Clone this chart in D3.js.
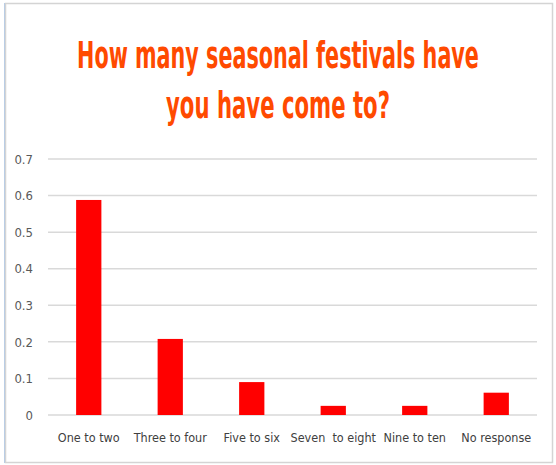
<!DOCTYPE html>
<html>
<head>
<meta charset="utf-8">
<script src="https://cdn.jsdelivr.net/npm/d3@7/dist/d3.min.js"></script>
<style>
  body { margin: 0; background: #fff; }
  svg { display: block; }
</style>
</head>
<body>
<div id="chart"></div>
<script>
var categories = ["One to two", "Three to four", "Five to six", "Seven  to eight", "Nine to ten", "No response"];
var values = [0.588, 0.208, 0.09, 0.025, 0.025, 0.061];
var yTicks = [0, 0.1, 0.2, 0.3, 0.4, 0.5, 0.6, 0.7];
var titleLines = ["How many seasonal festivals have", "you have come to?"];

var width = 556, height = 465;
var margin = { top: 159, right: 19, bottom: 50, left: 48 };
var w = width - margin.left - margin.right;
var h = height - margin.top - margin.bottom;

var svg = d3.select("#chart")
    .append("svg")
    .attr("width", width)
    .attr("height", height);

// frame
svg.append("rect")
    .attr("x", 5.5).attr("y", 3.5)
    .attr("width", 547).attr("height", 459)
    .attr("fill", "none")
    .attr("stroke", "#d4d4d4")
    .attr("stroke-width", 1.5);
svg.append("line")
    .attr("x1", 4.5).attr("x2", 4.5)
    .attr("y1", 3).attr("y2", 463)
    .attr("stroke", "#b9cde5");

// title, squeezed horizontally to look like a condensed bold face
var titleWidths = [402, 224];
svg.selectAll("text.title")
    .data(titleLines)
    .enter()
    .append("text")
    .attr("class", "title")
    .attr("text-anchor", "middle")
    .style("font-family", "'DejaVu Sans Condensed', 'DejaVu Sans', sans-serif")
    .style("font-weight", "bold")
    .style("font-size", "37px")
    .style("fill", "#ff4a00")
    .text(function(d) { return d; })
    .attr("transform", function(d, i) {
        var k = titleWidths[i] / this.getComputedTextLength();
        return "translate(278," + (68 + i * 50) + ") scale(" + k + ",1)";
    });

var g = svg.append("g")
    .attr("transform", "translate(" + margin.left + "," + margin.top + ")");

var x = d3.scaleBand()
    .domain(categories)
    .range([0, w])
    .paddingInner(0.69)
    .paddingOuter(0.345);

var y = d3.scaleLinear()
    .domain([0, 0.7])
    .range([h, 0]);

// gridlines
g.selectAll("line.grid")
    .data(yTicks)
    .enter()
    .append("line")
    .attr("class", "grid")
    .attr("x1", 0)
    .attr("x2", w)
    .attr("y1", function(d) { return y(d); })
    .attr("y2", function(d) { return y(d); })
    .attr("stroke", "#d9d9d9")
    .attr("stroke-width", 1.5);

// y labels
var yAxis = g.append("g")
    .call(d3.axisLeft(y).tickValues(yTicks).tickSize(0).tickPadding(15)
        .tickFormat(function(d) { return d === 0 ? "0" : d3.format(".1f")(d); }));
yAxis.select(".domain").remove();
yAxis.selectAll("text")
    .style("font-family", "'DejaVu Sans Condensed', sans-serif")
    .style("font-size", "13px")
    .style("fill", "#595959");

// bars
g.selectAll("rect.bar")
    .data(values)
    .enter()
    .append("rect")
    .attr("class", "bar")
    .attr("x", function(d, i) { return x(categories[i]); })
    .attr("width", x.bandwidth())
    .attr("y", function(d) { return y(d); })
    .attr("height", function(d) { return h - y(d); })
    .attr("fill", "#ff0000");

// x labels
var xAxis = g.append("g")
    .attr("transform", "translate(0," + h + ")")
    .call(d3.axisBottom(x).tickSize(0).tickPadding(18));
xAxis.select(".domain").remove();
xAxis.selectAll("text")
    .style("font-family", "'DejaVu Sans Condensed', sans-serif")
    .style("font-size", "12.5px")
    .style("fill", "#404040")
    .style("white-space", "pre");
</script>
</body>
</html>
